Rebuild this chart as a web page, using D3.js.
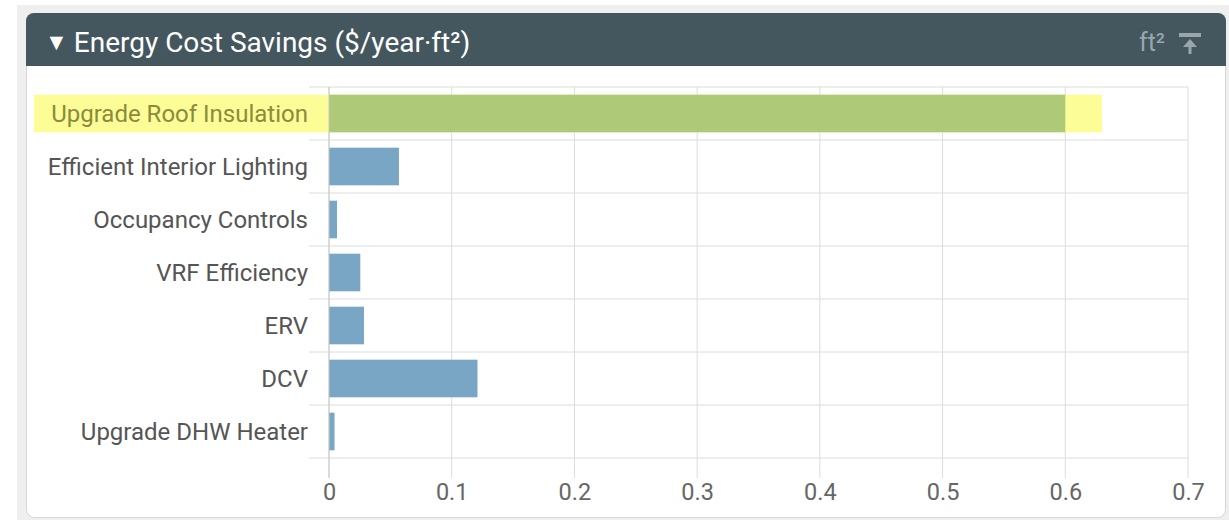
<!DOCTYPE html>
<html><head><meta charset="utf-8">
<script src="https://cdn.jsdelivr.net/npm/d3@7"></script>
<style>
html,body{margin:0;padding:0;background:#fff;}
svg{display:block;font-family:Roboto, "Noto Sans", sans-serif;}
</style></head>
<body>
<svg id="chart" width="1229" height="520"></svg>
<script>
const categories = ["Upgrade Roof Insulation","Efficient Interior Lighting","Occupancy Controls","VRF Efficiency","ERV","DCV","Upgrade DHW Heater"];
const values = [0.6, 0.057, 0.0065, 0.0255, 0.0285, 0.121, 0.0045];
const highlighted = ["Upgrade Roof Insulation"];
const tickValues = [0,0.1,0.2,0.3,0.4,0.5,0.6,0.7];
const title = "▼ Energy Cost Savings ($/year·ft²)";

const svg = d3.select("#chart");
// outer gray container
svg.append("rect").attr("x",17).attr("y",5).attr("width",1212).attr("height",515).attr("fill","#efefef");
// panel
svg.append("rect").attr("x",26.5).attr("y",13.5).attr("width",1199).attr("height",504).attr("rx",8)
  .attr("fill","#fff").attr("stroke","#d6d6d6");
// header
const hp = d3.path();
const hx=26, hy=13, hw=1200, hh=53, r=8;
hp.moveTo(hx, hy+hh); hp.lineTo(hx, hy+r); hp.arcTo(hx,hy,hx+r,hy,r); hp.lineTo(hx+hw-r,hy); hp.arcTo(hx+hw,hy,hx+hw,hy+r,r); hp.lineTo(hx+hw,hy+hh); hp.closePath();
svg.append("path").attr("d",hp.toString()).attr("fill","#44575f");
const tt = svg.append("text").attr("x",45).attr("y",52).attr("fill","#ffffff").attr("font-size",28);
tt.append("tspan").attr("font-size",23).attr("dy",-2).text(title.slice(0,1));
tt.append("tspan").attr("dx",6).attr("dy",2).text(title.slice(2));
svg.append("text").attr("x",1139).attr("y",51).attr("fill","#9aa6ad").attr("font-size",25).text("ft²");
// pin icon
const ic = svg.append("g").attr("fill","#9aa6ad").attr("stroke","#9aa6ad");
ic.append("rect").attr("x",1179).attr("y",33).attr("width",22).attr("height",4).attr("stroke","none");
ic.append("path").attr("d","M1183,47 L1190,39 L1197,47 Z").attr("stroke","none");
ic.append("line").attr("x1",1190).attr("x2",1190).attr("y1",42).attr("y2",54).attr("stroke-width",3);

const x = d3.scaleLinear().domain([0,0.7]).range([329,1188]);
const y = d3.scaleBand().domain(categories).range([87,458]).paddingInner(0.29).paddingOuter(0.145);
const rowH = (458-87)/categories.length;

const g = svg.append("g");
// vertical grid
g.selectAll("line.v").data(tickValues).join("line")
  .attr("x1",d=>x(d)).attr("x2",d=>x(d)).attr("y1",87).attr("y2",478)
  .attr("stroke","#dcdcdc").attr("stroke-width",1);
// horizontal grid
g.selectAll("line.h").data(d3.range(categories.length+1)).join("line")
  .attr("x1",309).attr("x2",1188).attr("y1",i=>87+i*rowH).attr("y2",i=>87+i*rowH)
  .attr("stroke","#dcdcdc").attr("stroke-width",1);
// highlight
g.selectAll("rect.hl").data(categories.filter(c=>highlighted.includes(c))).join("rect")
  .attr("x",34).attr("width",1102-34).attr("y",d=>y(d)).attr("height",y.bandwidth()).attr("fill","#fdfd98");
// bars
g.selectAll("rect.bar").data(categories).join("rect")
  .attr("x",x(0)).attr("y",d=>y(d)).attr("width",(d,i)=>x(values[i])-x(0)).attr("height",y.bandwidth())
  .attr("fill",d=>highlighted.includes(d)?"#aec977":"#78a6c4");
// zero axis line
g.append("line").attr("x1",x(0)).attr("x2",x(0)).attr("y1",87).attr("y2",478).attr("stroke","#c8c8c8");
// labels
g.selectAll("text.lab").data(categories).join("text")
  .attr("x",308).attr("y",d=>y(d)+y.bandwidth()/2).attr("dy","0.35em").attr("text-anchor","end")
  .attr("font-size",24).attr("fill",d=>highlighted.includes(d)?"#8b8b3c":"#555555").text(d=>d);
// x axis
const xa = svg.append("g").attr("transform","translate(0,478)")
  .call(d3.axisBottom(x).tickValues(tickValues).tickFormat(d3.format("~g")).tickSize(0).tickPadding(5));
xa.select(".domain").remove();
xa.selectAll("text").attr("font-size",23.5).attr("fill","#666").attr("font-family","Roboto, sans-serif");
</script>
</body></html>
